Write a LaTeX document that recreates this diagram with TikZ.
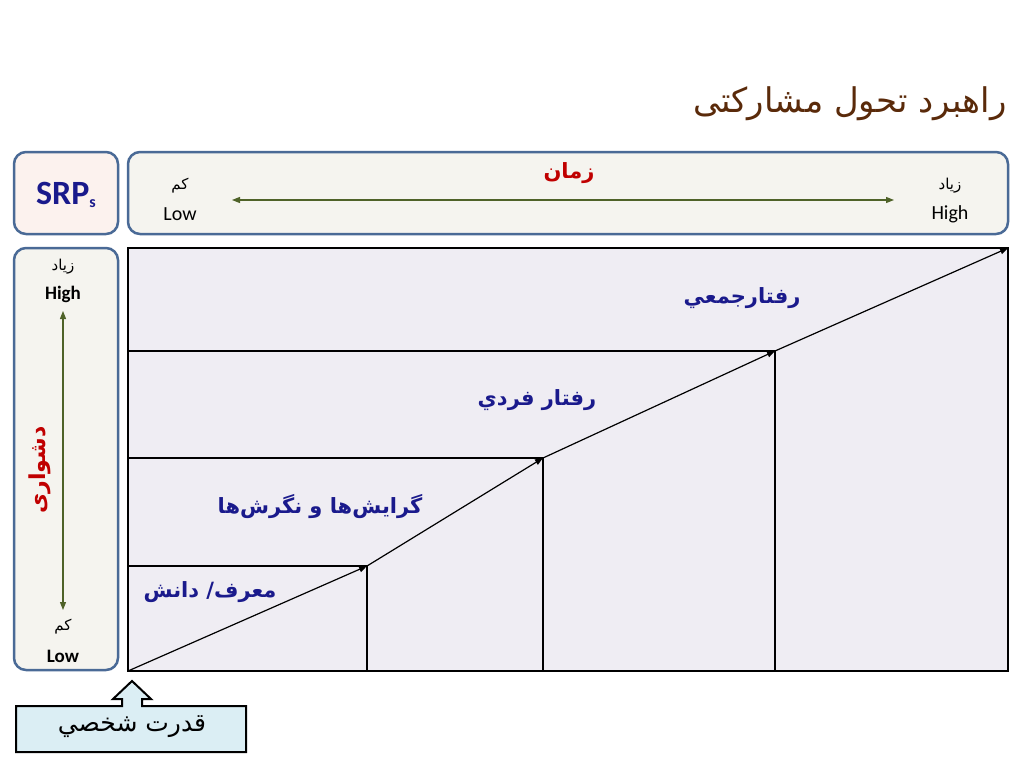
\documentclass[tikz,border=0pt]{standalone}
\usepackage{fontspec}
\setmainfont{Carlito}
\newfontfamily\arabicfont[Script=Arabic]{DejaVu Sans}
\TeXXeTstate=1
\usetikzlibrary{arrows.meta}
\definecolor{brd}{HTML}{4A6A96}
\definecolor{titlec}{HTML}{5A2A0A}
\definecolor{navyc}{HTML}{1A1A8C}
\definecolor{redc}{HTML}{C00000}
\definecolor{greenc}{HTML}{4F6228}
\definecolor{pinkf}{HTML}{FCF2EE}
\definecolor{boxf}{HTML}{F5F4EF}
\definecolor{mainf}{HTML}{EFEDF3}
\definecolor{bluef}{HTML}{DBEEF4}
\tikzset{
  rbox/.style={draw=brd, line width=2.5pt, rounded corners=12pt},
  lbl/.style={font=\arabicfont\bfseries\fontsize{21}{24}\selectfont, text=navyc},
  small/.style={font=\arabicfont\fontsize{15}{17}\selectfont},
  eng/.style={font=\fontsize{20}{22}\selectfont},
  engb/.style={font=\bfseries\fontsize{19}{21}\selectfont},
  axis/.style={draw=greenc, line width=1.2pt, {Triangle[length=8pt,width=6pt]}-{Triangle[length=8pt,width=6pt]}},
  gridl/.style={draw=black, line width=1.2pt},
  stair/.style={draw=black, line width=1.2pt, -{Triangle[length=8pt,width=6pt]}}
}
\begin{document}
\begin{tikzpicture}[x=1pt,y=-1pt]
\useasboundingbox (0,0) rectangle (1024,768);
% title
\node[anchor=east, font=\arabicfont\fontsize{34}{38}\selectfont, text=titlec] (title) at (1010,104) {\beginR راهبرد تحول مشارکتی\endR};
% SRPs box
\draw[rbox, fill=pinkf] (14,152) rectangle (118,234);
\node[font=\bfseries\fontsize{34}{36}\selectfont, text=navyc] (srp) at (66,195) {SRP\raisebox{-0.2ex}{\fontsize{16}{18}\selectfont s}};
% time box
\draw[rbox, fill=boxf] (128,152) rectangle (1008,234);
\node[font=\arabicfont\bfseries\fontsize{21}{24}\selectfont, text=redc] (zaman) at (569,173) {\beginR زمان\endR};
\node[small] (kam1) at (180,186) {\beginR کم\endR};
\node[eng] (low1) at (180,214) {Low};
\node[small] (ziad1) at (950,186) {\beginR زیاد\endR};
\node[eng] (high1) at (950,214) {High};
\coordinate (tl) at (232,200);
\coordinate (tr) at (894,200);
\draw[axis] (tl) -- (tr);
% left box
\draw[rbox, fill=boxf] (14,248) rectangle (118,670);
\node[small] (ziad2) at (63,267) {\beginR زیاد\endR};
\node[engb] (high2) at (63,294) {High};
\node[small] (kam2) at (63,627) {\beginR کم\endR};
\node[engb] (low2) at (63,656) {Low};
\coordinate (vt) at (63,311);
\coordinate (vb) at (63,610);
\draw[axis] (vb) -- (vt);
\node[rotate=90, font=\arabicfont\bfseries\fontsize{22}{25}\selectfont, text=redc] (dosh) at (40,470) {\beginR دشواری\endR};
% main area
\draw[fill=mainf, draw=black, line width=2pt] (128,248) rectangle (1008,671);
\coordinate (o) at (128,671);
\coordinate (p1) at (367,566);
\coordinate (p2) at (543,458);
\coordinate (p3) at (775,351);
\coordinate (p4) at (1008,248);
\coordinate (l1) at (128,566);
\coordinate (l2) at (128,458);
\coordinate (l3) at (128,351);
\coordinate (b1) at (367,671);
\coordinate (b2) at (543,671);
\coordinate (b3) at (775,671);
\draw[gridl] (l1) -- (p1) -- (b1);
\draw[gridl] (l2) -- (p2) -- (b2);
\draw[gridl] (l3) -- (p3) -- (b3);
\draw[stair] (o) -- (p1);
\draw[stair] (p1) -- (p2);
\draw[stair] (p2) -- (p3);
\draw[stair] (p3) -- (p4);
\node[lbl] (t1) at (210,592) {\beginR معرف/ دانش\endR};
\node[lbl] (t2) at (320,507) {\beginR گرایش‌ها و نگرش‌ها\endR};
\node[lbl] (t3) at (537,400) {\beginR رفتار فردي\endR};
\node[lbl] (t4) at (742,298) {\beginR رفتارجمعي\endR};
% bottom block arrow
\draw[fill=bluef, draw=black, line width=2pt] (16,706) -- (122,706) -- (122,699) -- (113,699) -- (132,681) -- (151,699) -- (142,699) -- (142,706) -- (246,706) -- (246,752) -- (16,752) -- cycle;
\node[font=\arabicfont\fontsize{25}{28}\selectfont] (qodrat) at (132,727) {\beginR قدرت شخصي\endR};
\end{tikzpicture}
\end{document}
